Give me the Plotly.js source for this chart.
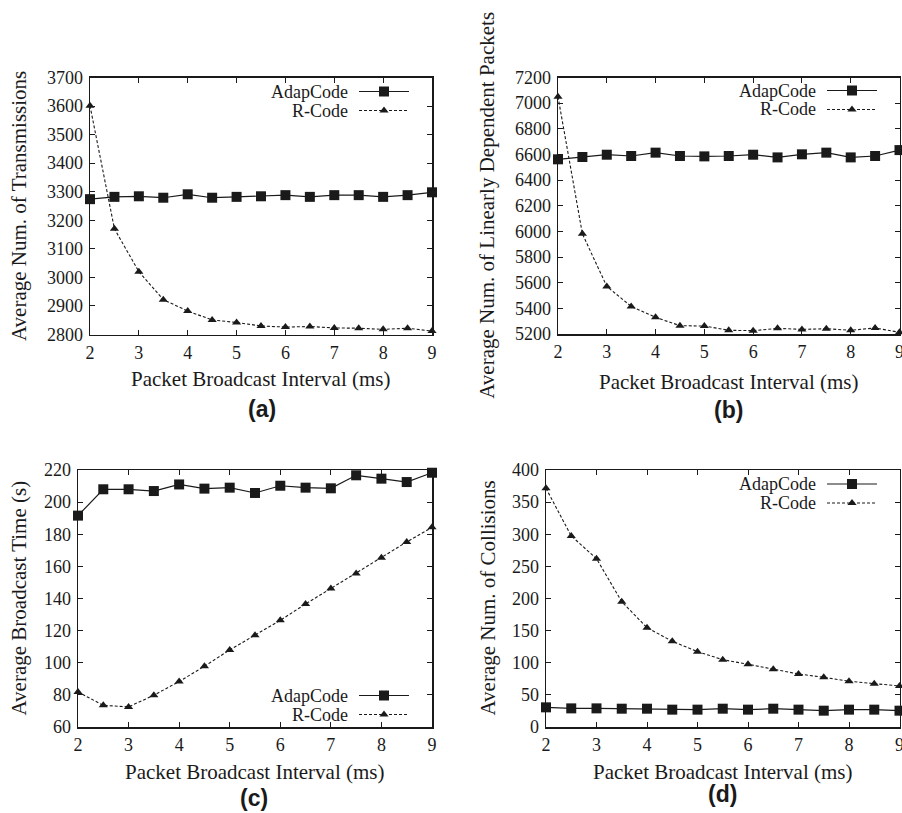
<!DOCTYPE html>
<html>
<head>
<meta charset="utf-8">
<script src="https://cdn.plot.ly/plotly-3.0.1.min.js"></script>
<style>html,body{margin:0;padding:0;background:#fff}#chart{width:902px;height:813px}</style>
</head>
<body>
<div id="chart"></div>
<script>
// ---------- data ----------
const intervals = [2, 2.5, 3, 3.5, 4, 4.5, 5, 5.5, 6, 6.5, 7, 7.5, 8, 8.5, 9];
const seriesNames = ['AdapCode', 'R-Code'];

// (a) Average Num. of Transmissions
const transAdap = [3274, 3282, 3284, 3279, 3291, 3279, 3282, 3284, 3288, 3282, 3288, 3288, 3282, 3288, 3298];
const transRcode = [3601, 3170, 3020, 2922, 2882, 2851, 2842, 2830, 2826, 2828, 2823, 2822, 2818, 2822, 2812];

// (b) Average Num. of Linearly Dependent Packets
const depAdap = [6562, 6580, 6598, 6588, 6614, 6588, 6585, 6588, 6598, 6577, 6601, 6614, 6577, 6588, 6634];
const depRcode = [7050, 5981, 5571, 5415, 5330, 5265, 5262, 5229, 5226, 5244, 5236, 5241, 5229, 5247, 5213];

// (c) Average Broadcast Time (s)
const timeAdap = [191.6, 208, 208, 206.9, 211, 208.4, 209, 205.7, 210.2, 209, 208.6, 216.7, 214.6, 212.5, 218.3];
const timeRcode = [81.8, 73.5, 72.5, 79.8, 88.3, 97.8, 108, 117.1, 126.4, 136.6, 146.3, 155.5, 165.4, 175.2, 184.3];

// (d) Average Num. of Collisions
const collAdap = [30.6, 29, 29, 28.5, 28.5, 27, 27, 28.5, 27, 28.5, 27, 25.4, 27, 27, 25.4];
const collRcode = [371.5, 297.3, 262, 195, 154.6, 133.4, 117.3, 104.8, 97.6, 89.8, 82.5, 77.4, 71.2, 67.5, 63.9];

const xTitle = 'Packet Broadcast Interval (ms)';
const yTitles = ['Average Num. of Transmissions', 'Average Num. of Linearly Dependent Packets',
                 'Average Broadcast Time (s)', 'Average Num. of Collisions'];
const panelLabels = ['(a)', '(b)', '(c)', '(d)'];
const xTicks = [2, 3, 4, 5, 6, 7, 8, 9];
const yTicksA = [2800, 2900, 3000, 3100, 3200, 3300, 3400, 3500, 3600, 3700];
const yTicksB = [5200, 5400, 5600, 5800, 6000, 6200, 6400, 6600, 6800, 7000, 7200];
const yTicksC = [60, 80, 100, 120, 140, 160, 180, 200, 220];
const yTicksD = [0, 50, 100, 150, 200, 250, 300, 350, 400];

// ---------- layout helpers ----------
const W = 902, H = 813;
const px = v => v / W;
const py = v => (H - v) / H;
const SERIF = "'Liberation Serif', 'Times New Roman', serif";
const INK = '#1a1a1a';

const panels = [
  {ya: [transAdap, transRcode], yr: [2800, 3700], yt: yTicksA, box: [90, 432, 77.5, 334.5],
   leg: {x: 419, y1: 91.5, y2: 110.5, tx: 350}, lab: [262, 409], xt: 379, ytx: 19},
  {ya: [depAdap, depRcode], yr: [5200, 7200], yt: yTicksB, box: [558, 899.5, 77.5, 334],
   leg: {x: 887, y1: 90.5, y2: 109.5, tx: 818}, lab: [728, 410], xt: 382, ytx: 487},
  {ya: [timeAdap, timeRcode], yr: [60, 220], yt: yTicksC, box: [78, 432, 470, 727],
   leg: {x: 419, y1: 695.5, y2: 714.5, tx: 350}, lab: [254, 798], xt: 772, ytx: 18},
  {ya: [collAdap, collRcode], yr: [0, 400], yt: yTicksD, box: [546, 899.5, 470, 727],
   leg: {x: 887, y1: 484, y2: 503, tx: 818}, lab: [722, 794], xt: 772, ytx: 487}
];

const traces = [];
const layout = {
  width: W, height: H,
  margin: {l: 0, r: 0, t: 0, b: 0},
  paper_bgcolor: '#fff', plot_bgcolor: '#fff',
  font: {family: SERIF, size: 18, color: INK},
  annotations: [],
  showlegend: true
};

panels.forEach((p, i) => {
  const n = i + 1;
  const xa = n === 1 ? 'x' : 'x' + n;
  const ya = n === 1 ? 'y' : 'y' + n;
  const legId = n === 1 ? 'legend' : 'legend' + n;
  const [x0, x1, y0, y1] = p.box;

  traces.push({
    x: intervals, y: p.ya[0], xaxis: xa, yaxis: ya, type: 'scatter', mode: 'lines+markers',
    name: '', legend: legId, cliponaxis: false,
    line: {color: INK, width: 1.2},
    marker: {symbol: 'square', size: 10, color: INK}
  });
  traces.push({
    x: intervals, y: p.ya[1], xaxis: xa, yaxis: ya, type: 'scatter', mode: 'lines+markers',
    name: '', legend: legId, cliponaxis: false,
    line: {color: INK, width: 1.1, dash: '3px,2px'},
    marker: {symbol: 'triangle-up', size: 8, color: INK}
  });

  const axCommon = {
    showline: true, mirror: 'ticks', linecolor: INK, linewidth: 1.5,
    ticks: 'inside', ticklen: 5, tickwidth: 1, tickcolor: INK,
    showgrid: false, zeroline: false, automargin: false,
    ticklabeloverflow: 'allow',
    tickfont: {family: SERIF, size: 18, color: INK}
  };
  layout['xaxis' + (n === 1 ? '' : n)] = Object.assign({}, axCommon, {
    domain: [px(x0), px(x1)], anchor: ya, range: [2, 9],
    tickmode: 'array', tickvals: xTicks, ticktext: xTicks.map(String),
    ticklabelstandoff: 1
  });
  layout['yaxis' + (n === 1 ? '' : n)] = Object.assign({}, axCommon, {
    domain: [py(y1), py(y0)], anchor: xa, range: p.yr,
    tickmode: 'array', tickvals: p.yt, ticktext: p.yt.map(String),
    ticklabelstandoff: 2
  });

  // symbol-only legend (text drawn to its left as annotations)
  layout[legId] = {
    x: px(p.leg.x), y: py(p.leg.y1 - 14.5), xanchor: 'right', yanchor: 'top',
    bgcolor: 'rgba(0,0,0,0)', borderwidth: 0, itemwidth: 50,
    font: {family: SERIF, size: 12, color: INK}, tracegroupgap: 0
  };
  layout.annotations.push(
    {xref: 'paper', yref: 'paper', x: px(p.leg.tx), y: py(p.leg.y1), xanchor: 'right', yanchor: 'middle',
     text: seriesNames[0], showarrow: false, font: {family: SERIF, size: 18, color: INK}},
    {xref: 'paper', yref: 'paper', x: px(p.leg.tx), y: py(p.leg.y2), xanchor: 'right', yanchor: 'middle',
     text: seriesNames[1], showarrow: false, font: {family: SERIF, size: 18, color: INK}},
    {xref: 'paper', yref: 'paper', x: px((x0 + x1) / 2), y: py(p.xt), xanchor: 'center', yanchor: 'middle',
     text: xTitle, showarrow: false, font: {family: SERIF, size: 21, color: INK}},
    {xref: 'paper', yref: 'paper', x: px(p.ytx), y: py((y0 + y1) / 2), xanchor: 'center', yanchor: 'middle',
     text: yTitles[i], textangle: -90, showarrow: false, font: {family: SERIF, size: 21, color: INK}},
    {xref: 'paper', yref: 'paper', x: px(p.lab[0]), y: py(p.lab[1]), xanchor: 'center', yanchor: 'middle',
     text: '<b>' + panelLabels[i] + '</b>', showarrow: false,
     font: {family: "'Liberation Sans', Arial, sans-serif", size: 23, color: INK}}
  );
});

Plotly.newPlot('chart', traces, layout, {staticPlot: true, displayModeBar: false});
</script>
</body>
</html>
